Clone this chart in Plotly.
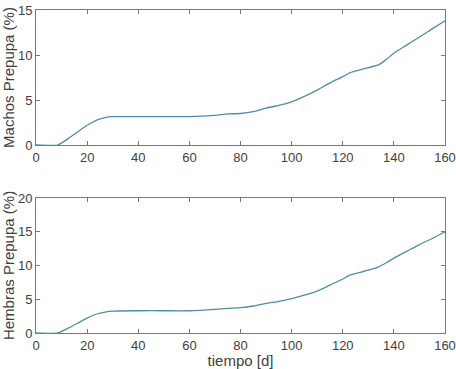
import plotly.graph_objects as go

t_machos = [0, 8.5, 12, 16, 20, 24, 27, 30, 40, 50, 60, 70, 75, 80, 85, 90, 95, 100, 105, 110, 115, 120, 123, 126, 130, 134, 137, 140, 145, 150, 155, 160]
machos = [0, 0, 0.6, 1.4, 2.2, 2.8, 3.05, 3.15, 3.15, 3.15, 3.15, 3.3, 3.45, 3.5, 3.7, 4.1, 4.4, 4.8, 5.4, 6.1, 6.9, 7.6, 8.05, 8.3, 8.6, 8.9, 9.5, 10.2, 11.1, 12.0, 12.9, 13.8]

t_hembras = [0, 8.5, 12, 16, 20, 24, 27, 30, 40, 50, 60, 70, 75, 80, 85, 90, 95, 100, 105, 110, 115, 120, 123, 126, 130, 134, 137, 140, 145, 150, 155, 160]
hembras = [0, 0, 0.6, 1.4, 2.2, 2.85, 3.1, 3.25, 3.3, 3.3, 3.3, 3.5, 3.65, 3.75, 4.0, 4.4, 4.7, 5.1, 5.6, 6.2, 7.1, 8.0, 8.6, 8.9, 9.3, 9.8, 10.4, 11.1, 12.1, 13.1, 14.0, 15.0]

x_ticks = [0, 20, 40, 60, 80, 100, 120, 140, 160]
y_ticks_top = [0, 5, 10, 15]
y_ticks_bottom = [0, 5, 10, 15, 20]

line_color = "rgb(78,142,164)"
axis_color = "rgb(120,120,120)"
text_color = "rgb(64,64,64)"
tick_font = dict(family="Liberation Sans, Arial, sans-serif", size=13, color=text_color)
title_font = dict(family="Liberation Sans, Arial, sans-serif", size=15, color=text_color)

fig = go.Figure()
fig.add_trace(go.Scatter(x=t_machos, y=machos, mode="lines", line=dict(color=line_color, width=1.3, shape="spline", smoothing=0.6), xaxis="x", yaxis="y", showlegend=False))
fig.add_trace(go.Scatter(x=t_hembras, y=hembras, mode="lines", line=dict(color=line_color, width=1.3, shape="spline", smoothing=0.6), xaxis="x2", yaxis="y2", showlegend=False))

axis_common = dict(showline=True, linecolor=axis_color, linewidth=1, mirror="ticks", ticks="inside",
                   ticklen=4, tickcolor=axis_color, showgrid=False, zeroline=False, tickfont=tick_font,
                   automargin=False, ticklabeloverflow="allow")

fig.update_layout(
    width=456, height=369,
    margin=dict(l=36, r=11, t=10, b=36),
    paper_bgcolor="white", plot_bgcolor="white",
    font=tick_font,
    xaxis=dict(domain=[0, 1], range=[0, 160], tickvals=x_ticks, anchor="y", **axis_common),
    yaxis=dict(domain=[0.582, 1], range=[0, 15], tickvals=y_ticks_top, anchor="x",
               title=dict(text="Machos Prepupa (%)", font=title_font, standoff=2), **axis_common),
    xaxis2=dict(domain=[0, 1], range=[0, 160], tickvals=x_ticks, anchor="y2",
                title=dict(text="tiempo [d]", font=title_font, standoff=12), **axis_common),
    yaxis2=dict(domain=[0, 0.418], range=[0, 20], tickvals=y_ticks_bottom, anchor="x2",
                title=dict(text="Hembras Prepupa (%)", font=title_font, standoff=2), **axis_common),
)

fig.write_html("out.html")
